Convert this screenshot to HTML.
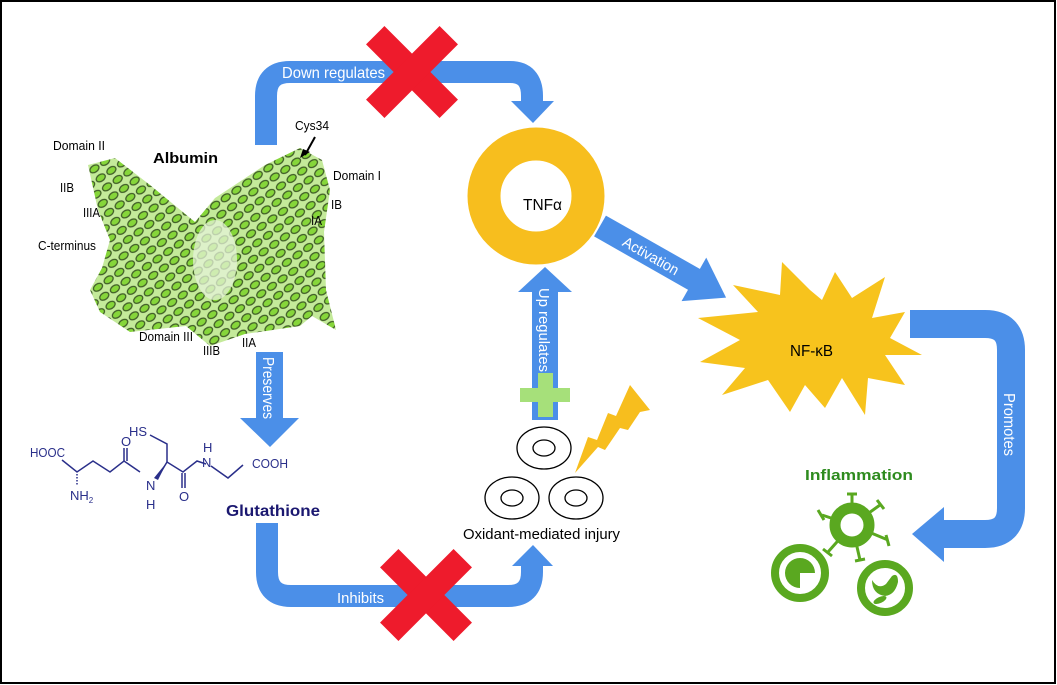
<!DOCTYPE html>
<html><head><meta charset="utf-8"><style>
html,body{margin:0;padding:0;background:#fff}
svg{display:block}
text{font-family:"Liberation Sans",sans-serif}
</style></head><body>
<svg width="1057" height="685" viewBox="0 0 1057 685" xmlns="http://www.w3.org/2000/svg">
<defs>
<pattern id="hel" width="13" height="11" patternUnits="userSpaceOnUse" patternTransform="rotate(-35)">
<rect width="13" height="11" fill="#c4ea9a"/>
<ellipse cx="6.5" cy="5.5" rx="5" ry="3.4" fill="#86d63a" stroke="#3d5a25" stroke-width="1.2"/>
</pattern>
</defs>
<rect x="1" y="1" width="1054" height="682" fill="#fff" stroke="#000" stroke-width="2"/>

<path d="M266 145 L266 96 Q266 72 290 72 L510 72 Q532 72 532 96 L532 103" fill="none" stroke="#4b8fe8" stroke-width="22"/>
<polygon points="511,101 554,101 533,123" fill="#4b8fe8"/>
<text x="282" y="78" font-size="16" fill="#fff" textLength="103" lengthAdjust="spacingAndGlyphs">Down regulates</text>
<g transform="translate(412,72) rotate(45)"><rect x="-52" y="-13" width="104" height="26" fill="#ee1b2c"/><rect x="-13" y="-52" width="26" height="104" fill="#ee1b2c"/></g>

<polygon points="88,165 115,158 150,185 195,222 215,198 265,165 300,148 322,160 330,190 324,232 326,290 336,330 312,316 300,326 245,334 210,346 186,326 130,332 100,312 90,290 102,268 110,240 98,210" fill="url(#hel)"/>
<ellipse cx="215" cy="260" rx="22" ry="40" fill="#e6f3d8" opacity="0.75"/>
<g font-size="13" fill="#000">
<text x="53" y="150" textLength="52" lengthAdjust="spacingAndGlyphs">Domain II</text>
<text x="60" y="192" textLength="14" lengthAdjust="spacingAndGlyphs">IIB</text>
<text x="83" y="217" textLength="17" lengthAdjust="spacingAndGlyphs">IIIA</text>
<text x="38" y="250" textLength="58" lengthAdjust="spacingAndGlyphs">C-terminus</text>
<text x="139" y="341" textLength="54" lengthAdjust="spacingAndGlyphs">Domain III</text>
<text x="203" y="355" textLength="17" lengthAdjust="spacingAndGlyphs">IIIB</text>
<text x="242" y="347" textLength="14" lengthAdjust="spacingAndGlyphs">IIA</text>
<text x="333" y="180" textLength="48" lengthAdjust="spacingAndGlyphs">Domain I</text>
<text x="331" y="209" textLength="11" lengthAdjust="spacingAndGlyphs">IB</text>
<text x="311" y="225" textLength="11" lengthAdjust="spacingAndGlyphs">IA</text>
<text x="295" y="130" textLength="34" lengthAdjust="spacingAndGlyphs">Cys34</text>
</g>
<line x1="315" y1="137" x2="305" y2="155" stroke="#000" stroke-width="2"/>
<polygon points="300,158 310,152 303,149" fill="#000"/>
<text x="153" y="163" font-size="15" font-weight="bold" fill="#000" textLength="65" lengthAdjust="spacingAndGlyphs">Albumin</text>

<circle cx="536" cy="196" r="52" fill="none" stroke="#f7be1e" stroke-width="33"/>
<text x="523" y="210" font-size="16" fill="#000" textLength="39" lengthAdjust="spacingAndGlyphs">TNFα</text>

<rect x="532" y="290" width="26" height="130" fill="#4b8fe8"/>
<polygon points="518,292 572,292 545,267" fill="#4b8fe8"/>
<text transform="translate(539,288) rotate(90)" font-size="15" fill="#fff" textLength="84" lengthAdjust="spacingAndGlyphs">Up regulates</text>
<rect x="520" y="388" width="50" height="14" fill="#a6e07a"/>
<rect x="538" y="373" width="15" height="44" fill="#a6e07a"/>

<g fill="none" stroke="#000" stroke-width="1.3">
<ellipse cx="544" cy="448" rx="27" ry="21"/><ellipse cx="544" cy="448" rx="11" ry="8"/>
<ellipse cx="512" cy="498" rx="27" ry="21"/><ellipse cx="512" cy="498" rx="11" ry="8"/>
<ellipse cx="576" cy="498" rx="27" ry="21"/><ellipse cx="576" cy="498" rx="11" ry="8"/>
</g>
<text x="463" y="539" font-size="15" fill="#000" textLength="157" lengthAdjust="spacingAndGlyphs">Oxidant-mediated injury</text>
<polygon points="630,385 650,410 640,412 628,430 620,428 605,450 598,447 575,473 588,437 597,440 608,413 616,416" fill="#f7be1e"/>

<g transform="translate(600,226) rotate(29.6)">
<rect x="0" y="-12" width="112" height="24" fill="#4b8fe8"/>
<polygon points="108,-25 145,0 108,25" fill="#4b8fe8"/>
<text x="28" y="6" font-size="15" fill="#fff" textLength="62" lengthAdjust="spacingAndGlyphs">Activation</text>
</g>

<polygon fill="#f7c31d" points="810,290 782,262 780,295 733,285 758,312 698,318 740,340 700,362 745,368 722,395 768,380 790,412 805,385 825,408 842,378 865,415 868,378 905,385 885,355 922,355 890,338 905,312 872,318 885,277 852,298 835,272 822,300"/>
<text x="790" y="356" font-size="16" fill="#000" textLength="43" lengthAdjust="spacingAndGlyphs">NF-κB</text>

<path d="M910 324 L985 324 Q1011 324 1011 350 L1011 508 Q1011 534 985 534 L940 534" fill="none" stroke="#4b8fe8" stroke-width="28"/>
<polygon points="944,507 944,562 912,534" fill="#4b8fe8"/>
<text transform="translate(1004,393) rotate(90)" font-size="16" fill="#fff" textLength="63" lengthAdjust="spacingAndGlyphs">Promotes</text>

<text x="805" y="480" font-size="15" font-weight="bold" fill="#2e8b1e" textLength="108" lengthAdjust="spacingAndGlyphs">Inflammation</text>
<g stroke="#5aa820" stroke-width="3" fill="none">
<line x1="852" y1="525" x2="852" y2="494"/><line x1="852" y1="525" x2="822" y2="515"/><line x1="852" y1="525" x2="880" y2="505"/>
<line x1="852" y1="525" x2="888" y2="540"/><line x1="852" y1="525" x2="828" y2="552"/><line x1="852" y1="525" x2="860" y2="560"/>
<line x1="847" y1="494" x2="857" y2="494"/><line x1="818" y1="510" x2="824" y2="520"/><line x1="877" y1="500" x2="884" y2="509"/>
<line x1="886" y1="535" x2="889" y2="546"/><line x1="823" y1="549" x2="832" y2="556"/><line x1="855" y1="561" x2="865" y2="559"/>
</g>
<circle cx="852" cy="525" r="17" fill="#fff" stroke="#5aa820" stroke-width="11"/>
<circle cx="800" cy="573" r="25" fill="none" stroke="#5aa820" stroke-width="8"/>
<path d="M800 573 L800 588 A15 15 0 1 1 815 573 Z" fill="#5aa820"/>
<circle cx="885" cy="588" r="24" fill="none" stroke="#5aa820" stroke-width="8"/>
<path d="M872 580 Q878 590 886 584 L892 576 Q898 572 898 582 Q895 595 885 596 Q872 594 872 580Z" fill="#5aa820"/>
<ellipse cx="880" cy="600" rx="7" ry="3" fill="#5aa820" transform="rotate(-25 880 600)"/>

<rect x="256" y="352" width="27" height="67" fill="#4b8fe8"/>
<polygon points="240,418 299,418 270,447" fill="#4b8fe8"/>
<text transform="translate(263,357) rotate(90)" font-size="16" fill="#fff" textLength="62" lengthAdjust="spacingAndGlyphs">Preserves</text>

<g stroke="#2a2f8a" stroke-width="1.5" fill="none">
<polyline points="62,460 77,472 93,461 110,472 124,461 140,472"/>
<line x1="124" y1="461" x2="124" y2="448"/><line x1="127" y1="461" x2="127" y2="448"/>
<polyline points="158,477 167,462 183,472 197,461 206,464"/>
<polyline points="167,462 167,444 150,435"/>
<line x1="182" y1="473" x2="182" y2="488"/><line x1="185" y1="473" x2="185" y2="488"/>
<polyline points="211,466 228,478 243,465"/>
<line x1="77" y1="474" x2="77" y2="485" stroke-dasharray="1.5 1.5"/>
</g>
<polygon points="167,462 154,478 158,480" fill="#2a2f8a"/>
<g font-size="13" fill="#2a2f8a">
<text x="30" y="457" textLength="35" lengthAdjust="spacingAndGlyphs">HOOC</text>
<text x="70" y="500">NH<tspan font-size="8" dy="3">2</tspan></text>
<text x="129" y="436">HS</text>
<text x="121" y="446">O</text>
<text x="146" y="490">N</text><text x="146" y="509">H</text>
<text x="179" y="501">O</text>
<text x="203" y="452">H</text><text x="202" y="467">N</text>
<text x="252" y="468" textLength="36" lengthAdjust="spacingAndGlyphs">COOH</text>
</g>
<text x="226" y="516" font-size="16" font-weight="bold" fill="#1b1870" textLength="94" lengthAdjust="spacingAndGlyphs">Glutathione</text>

<path d="M267 523 L267 572 Q267 596 291 596 L508 596 Q532 596 532 572 L532 564" fill="none" stroke="#4b8fe8" stroke-width="22"/>
<polygon points="512,566 553,566 533,545" fill="#4b8fe8"/>
<text x="337" y="603" font-size="15" fill="#fff" textLength="47" lengthAdjust="spacingAndGlyphs">Inhibits</text>
<g transform="translate(426,595) rotate(45)"><rect x="-52" y="-13" width="104" height="26" fill="#ee1b2c"/><rect x="-13" y="-52" width="26" height="104" fill="#ee1b2c"/></g>
</svg>
</body></html>
